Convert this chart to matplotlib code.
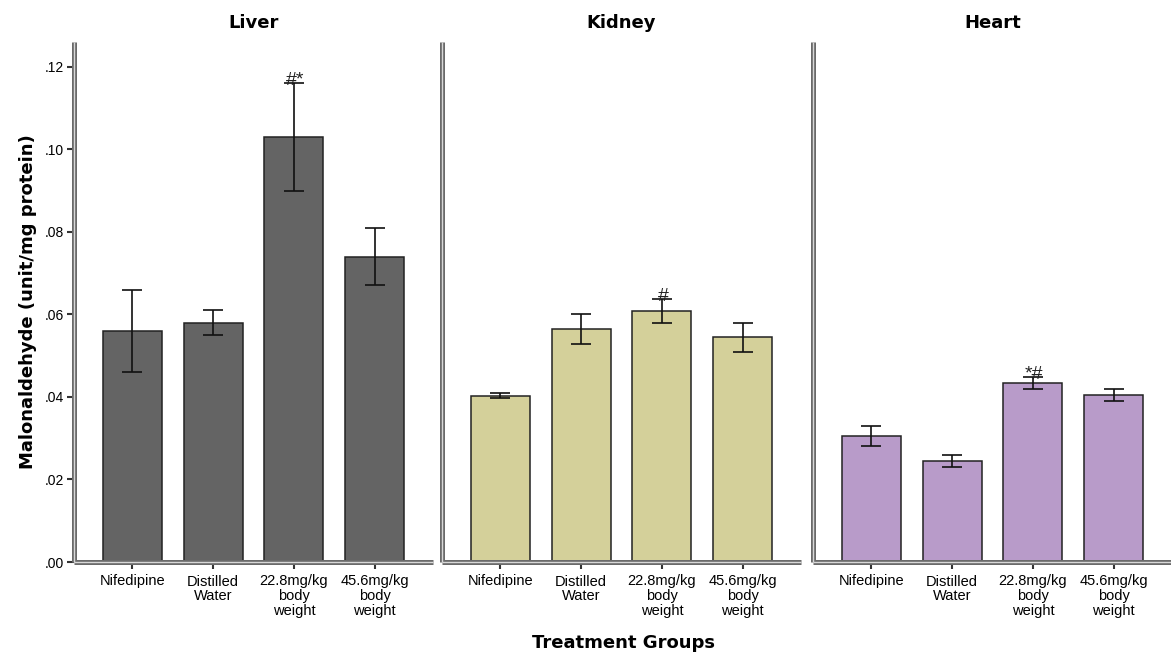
import matplotlib
matplotlib.use("Agg")
import matplotlib.pyplot as plt
import numpy as np

plt.rcParams["font.family"] = ["Liberation Sans", "DejaVu Sans"]

groups = ["Nifedipine", "Distilled\nWater", "22.8mg/kg\nbody\nweight", "45.6mg/kg\nbody\nweight"]
organs = ["Liver", "Kidney", "Heart"]

liver_mean = [0.056, 0.058, 0.103, 0.074]
liver_err = [0.010, 0.003, 0.013, 0.007]
kidney_mean = [0.0403, 0.0564, 0.0608, 0.0544]
kidney_err = [0.0006, 0.0036, 0.0029, 0.0035]
heart_mean = [0.0305, 0.0245, 0.0433, 0.0404]
heart_err = [0.0025, 0.0015, 0.0015, 0.0015]

# significance marks above the 22.8 mg/kg bars
marks = ["#*", "#", "*#"]

means = [liver_mean, kidney_mean, heart_mean]
errs = [liver_err, kidney_err, heart_err]
colours = ["#646464", "#d4d09a", "#b89bc9"]

W, H = 1171, 655
fig = plt.figure(figsize=(W / 100, H / 100), dpi=100)

lefts = [74, 442, 813]
ax_w = 359
ax_bottom = 562
ax_top = 42
bold_font = "DejaVu Sans"

x = np.arange(len(groups))
for k, organ in enumerate(organs):
    ax = fig.add_axes([lefts[k] / W, (H - ax_bottom) / H, ax_w / W, (ax_bottom - ax_top) / H])
    ax.bar(x, means[k], width=0.73, color=colours[k], edgecolor="#222222", linewidth=1.1, zorder=2)
    ax.errorbar(x, means[k], yerr=errs[k], fmt="none", ecolor="#111111", elinewidth=1.2,
                capsize=7, capthick=1.2, zorder=3)
    ax.annotate(marks[k], (2, means[k][2] + errs[k][2]), xytext=(1, -4), textcoords="offset points",
                ha="center", va="bottom", fontsize=14, color="#222222", zorder=4)

    ax.set_xlim(-0.72, 3.72)
    ax.set_ylim(0, 0.126)
    ax.set_title(organ, fontsize=13, fontweight="bold", family=bold_font, pad=10)

    for s in ["top", "right"]:
        ax.spines[s].set_visible(False)
    for s in ["left", "bottom"]:
        ax.spines[s].set_color("#6a6a6a")
        ax.spines[s].set_linewidth(3.6)
        ax.spines[s].set_capstyle("butt")
    # light centre stripe gives the double-line axis look
    ax.plot([0, 0], [0, 1], transform=ax.transAxes, color="#d8d8d8", lw=1.0,
            clip_on=False, zorder=5, solid_capstyle="butt")
    ax.plot([0, 1], [0, 0], transform=ax.transAxes, color="#d8d8d8", lw=1.0,
            clip_on=False, zorder=5, solid_capstyle="butt")

    ax.set_xticks(x)
    ax.set_xticklabels(groups, fontsize=10.5, linespacing=1.05)
    ax.tick_params(axis="x", direction="out", length=5, width=1.5, color="#333333", pad=4)
    if k == 0:
        ax.set_yticks(np.arange(0, 0.121, 0.02))
        ax.set_yticklabels([".%02d" % round(v * 100) for v in np.arange(0, 0.121, 0.02)], fontsize=10)
        ax.tick_params(axis="y", direction="out", length=5, width=1.5, color="#333333", pad=2)
        ax.set_ylabel("Malonaldehyde (unit/mg protein)", fontsize=13, fontweight="bold",
                      family=bold_font, labelpad=6)
    else:
        ax.set_yticks([])

fig.text(623 / W, 1 - 643 / H, "Treatment Groups", ha="center", va="center",
         fontsize=13, fontweight="bold", family=bold_font)

fig.savefig("out.png", dpi=100)
